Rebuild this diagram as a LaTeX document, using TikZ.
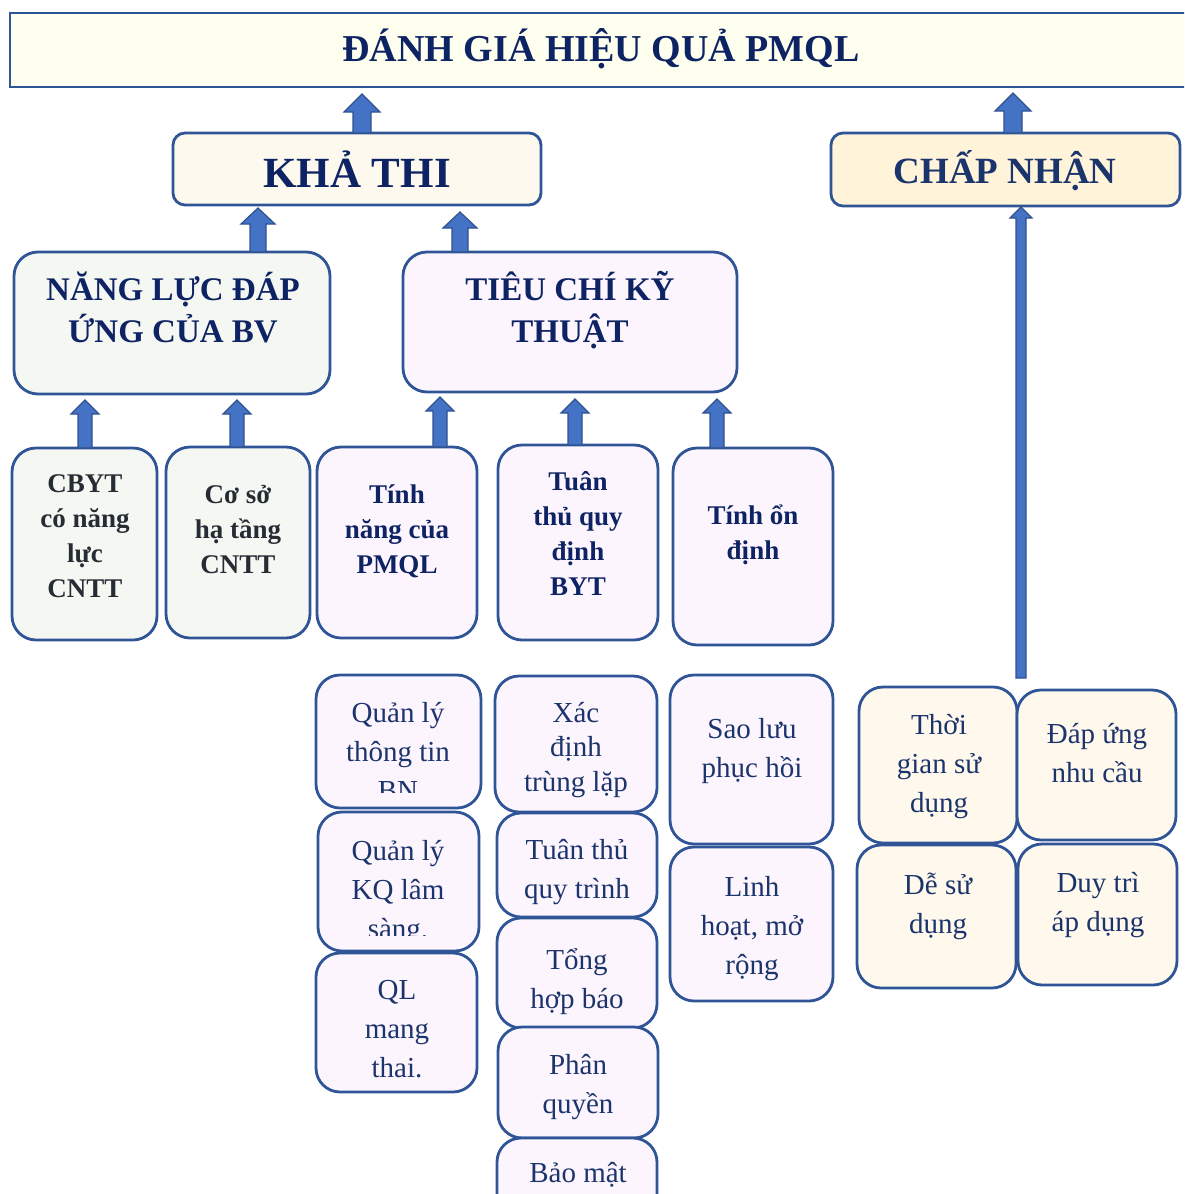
\documentclass[tikz,border=0pt]{standalone}
\usepackage{fontspec}
\setmainfont{Liberation Serif}
\usetikzlibrary{calc}
\definecolor{bord}{HTML}{2F5597}
\definecolor{arrfill}{HTML}{4472C4}
\definecolor{arrline}{HTML}{2F528F}
\definecolor{navy}{HTML}{0E2363}
\definecolor{navyb}{HTML}{1C346C}
\definecolor{darkg}{HTML}{262C34}
\definecolor{ivory}{HTML}{FFFFEF}
\definecolor{khafill}{HTML}{FDF9EE}
\definecolor{chapfill}{HTML}{FFF3DA}
\definecolor{greenf}{HTML}{F5F8F2}
\definecolor{lavf}{HTML}{FCF5FD}
\definecolor{creamf}{HTML}{FFF8EC}
\newcommand\bx[6]{\node[box,#6,minimum width={#4-#2},minimum height={#5-#3},anchor=north west] (#1) at (#2,#3) {};}
\newcommand\uparr[5]{%
  \path[arrowblk] let \p1=#1, \p2=#2 in
   (\x1-#4,\y1) -- (\x1-#4,\y2-#5) -- (\x1-#3,\y2-#5) -- (\x1,\y2) --
   (\x1+#3,\y2-#5) -- (\x1+#4,\y2-#5) -- (\x1+#4,\y1) -- cycle;}
\begin{document}
\begin{tikzpicture}[x=1pt,y=-1pt,
  box/.style={draw=bord,line width=2.8pt,inner sep=0pt,outer sep=0pt,rounded corners=24pt},
  arrowblk/.style={fill=arrfill,draw=arrline,line width=1.2pt},
  ttitle/.style={font=\fontsize{38}{46}\selectfont\bfseries,text=navy,anchor=base},
  tbig/.style={font=\fontsize{43}{50}\selectfont\bfseries,text=navy,anchor=base},
  thead/.style={font=\fontsize{33}{42}\selectfont\bfseries,text=navy,anchor=base,align=center},
  tsmall/.style={font=\fontsize{27}{35}\selectfont\bfseries,text=navy,anchor=base,align=center},
  treg/.style={font=\fontsize{29}{39}\selectfont,text=navyb,anchor=base,align=center}]
\useasboundingbox (0,0) rectangle (1184,1194);
\clip (0,0) rectangle (1184,1194);
% boxes
\bx{title}{10}{13}{1210}{87}{rounded corners=0pt,fill=ivory}
\bx{khathi}{173}{133}{541}{205}{rounded corners=12pt,fill=khafill}
\bx{chapnhan}{831}{133}{1180}{206}{rounded corners=12pt,fill=chapfill}
\bx{nangluc}{14}{252}{330}{394}{fill=greenf}
\bx{tieuchi}{403}{252}{737}{392}{fill=lavf}
\bx{cbyt}{12}{448}{157}{640}{fill=greenf}
\bx{coso}{166}{447}{310}{638}{fill=greenf}
\bx{tinhnang}{317}{447}{477}{638}{fill=lavf}
\bx{tuanthu}{498}{445}{658}{640}{fill=lavf}
\bx{ondinh}{673}{448}{833}{645}{fill=lavf}
\bx{qa}{316}{675}{481}{808}{fill=lavf}
\bx{qb}{318}{812}{479}{951}{fill=lavf}
\bx{qc}{316}{953}{477}{1092}{fill=lavf}
\bx{xa}{495}{676}{657}{812}{fill=lavf}
\bx{xb}{497}{813}{657}{917}{fill=lavf}
\bx{xc}{497}{918}{657}{1028}{fill=lavf}
\bx{xd}{498}{1027}{658}{1138}{fill=lavf}
\bx{xe}{497}{1138}{657}{1230}{fill=lavf}
\bx{sa}{670}{675}{833}{844}{fill=lavf}
\bx{sb}{670}{847}{833}{1001}{fill=lavf}
\bx{ca}{859}{687}{1017}{843}{fill=creamf}
\bx{cb}{1017}{690}{1176}{840}{fill=creamf}
\bx{cc}{857}{845}{1016}{988}{fill=creamf}
\bx{cd}{1018}{844}{1177}{985}{fill=creamf}
% texts (anchor = baseline of the last line)
\node[ttitle] (ttl) at (601,61) {ĐÁNH GIÁ HIỆU QUẢ PMQL};
\node[tbig] (tkt) at (357,187) {KHẢ THI};
\node[ttitle,font=\fontsize{37}{44}\selectfont\bfseries,text=navyb] (tcn) at (1005,183) {CHẤP NHẬN};
\node[thead] (tnl) at (173,342) {NĂNG LỰC ĐÁP\\ỨNG CỦA BV};
\node[thead] (ttc) at (570,342) {TIÊU CHÍ KỸ\\THUẬT};
\node[tsmall,text=darkg] (tcb) at (85,597) {CBYT\\có năng\\lực\\CNTT};
\node[tsmall,text=darkg] (tcs) at (238,573) {Cơ sở\\hạ tầng\\CNTT};
\node[tsmall] (ttn) at (397,573) {Tính\\năng của\\PMQL};
\node[tsmall] (ttt) at (578,595) {Tuân\\thủ quy\\định\\BYT};
\node[tsmall] (tod) at (753,559) {Tính ổn\\định};
\begin{scope}
\clip (316,675) rectangle (481,792);
\node[treg] (tqa) at (398,800) {Quản lý\\thông tin\\BN};
\end{scope}
\begin{scope}
\clip (318,812) rectangle (479,935);
\node[treg] (tqb) at (398,938) {Quản lý\\KQ lâm\\sàng.};
\end{scope}
\node[treg] (tqc) at (397,1077) {QL\\mang\\thai.};
\node[treg,font=\fontsize{29}{34.5}\selectfont] (txa) at (576,791) {Xác\\định\\trùng lặp};
\node[treg] (txb) at (577,898) {Tuân thủ\\quy trình};
\node[treg] (txc) at (577,1008) {Tổng\\hợp báo};
\node[treg] (txd) at (578,1113) {Phân\\quyền};
\node[treg] (txe) at (578,1182) {Bảo mật};
\node[treg] (tsa) at (752,777) {Sao lưu\\phục hồi};
\node[treg] (tsb) at (752,974) {Linh\\hoạt, mở\\rộng};
\node[treg] (tca) at (939,812) {Thời\\gian sử\\dụng};
\node[treg] (tcb2) at (1097,782) {Đáp ứng\\nhu cầu};
\node[treg] (tcc) at (938,933) {Dễ sử\\dụng};
\node[treg] (tcd) at (1098,931) {Duy trì\\áp dụng};
% arrow x positions
\coordinate (a1) at (362,0);
\coordinate (a2) at (1013,0);
\coordinate (a3) at (258,0);
\coordinate (a4) at (460,0);
\coordinate (a5) at (85,0);
\coordinate (a6) at (237,0);
\coordinate (a7) at (440,0);
\coordinate (a8) at (575,0);
\coordinate (a9) at (717,0);
\coordinate (a10) at (1021,0);
\coordinate (longfoot) at (1021,678);
% arrows
\uparr{($(khathi.north -| a1)$)}{($(title.south -| a1)+(0,7)$)}{18pt}{9pt}{18pt}
\uparr{($(chapnhan.north -| a2)$)}{($(title.south -| a2)+(0,6)$)}{18pt}{9pt}{18pt}
\uparr{($(nangluc.north -| a3)$)}{($(khathi.south -| a3)+(0,3)$)}{17pt}{8pt}{16pt}
\uparr{($(tieuchi.north -| a4)$)}{($(khathi.south -| a4)+(0,7)$)}{17pt}{8pt}{16pt}
\uparr{($(cbyt.north -| a5)$)}{($(nangluc.south -| a5)+(0,6)$)}{14pt}{7pt}{14pt}
\uparr{($(coso.north -| a6)$)}{($(nangluc.south -| a6)+(0,6)$)}{14pt}{7pt}{14pt}
\uparr{($(tinhnang.north -| a7)$)}{($(tieuchi.south -| a7)+(0,5)$)}{14pt}{7pt}{14pt}
\uparr{($(tuanthu.north -| a8)$)}{($(tieuchi.south -| a8)+(0,7)$)}{14pt}{7pt}{14pt}
\uparr{($(ondinh.north -| a9)$)}{($(tieuchi.south -| a9)+(0,7)$)}{14pt}{7pt}{14pt}
\uparr{(longfoot)}{($(chapnhan.south -| a10)+(0,1)$)}{11pt}{5pt}{11pt}
\end{tikzpicture}
\end{document}
